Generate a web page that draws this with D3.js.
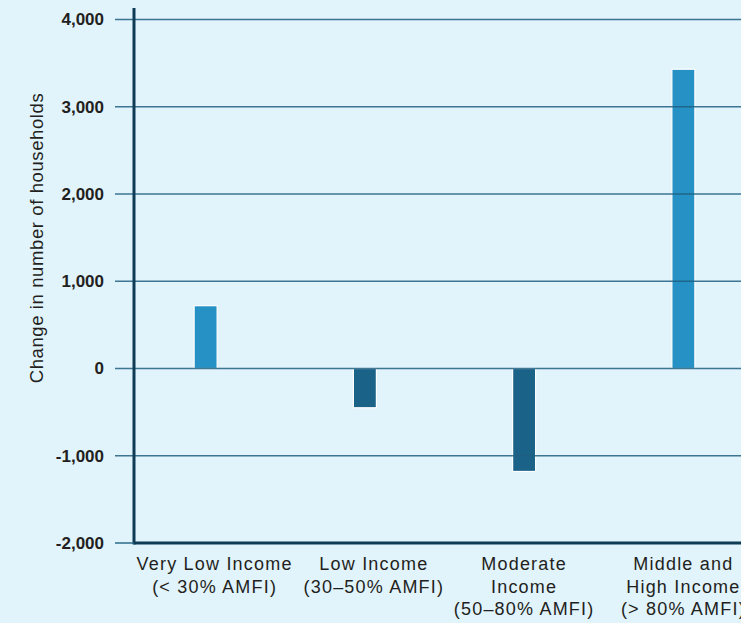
<!DOCTYPE html>
<html>
<head>
<meta charset="utf-8">
<script src="https://cdn.jsdelivr.net/npm/d3@7"></script>
<style>
  html, body { margin: 0; padding: 0; background: #e1f3fb; }
  svg { display: block; }
</style>
</head>
<body>
<svg id="chart"></svg>
<script>
// Data
const categories = ["Very Low Income", "Low Income", "Moderate Income", "Middle and High Income"];
const labelLines = [
    ["Very Low Income", "(< 30% AMFI)"],
    ["Low Income", "(30\u201350% AMFI)"],
    ["Moderate", "Income", "(50\u201380% AMFI)"],
    ["Middle and", "High Income", "(> 80% AMFI)"]
];
const changes = [720, -450, -1180, 3430];
const yTicks = [-2000, -1000, 0, 1000, 2000, 3000, 4000];

const width = 741;
const height = 623;
const axisX = 134;

const svg = d3.select("#chart")
    .attr("width", width)
    .attr("height", height)
    .style("background", "#e1f3fb");

// Scales
const x = d3.scaleBand()
    .domain(categories)
    .range([126, 763])
    .paddingInner(0);

const y = d3.scaleLinear()
    .domain([-2000, 4000])
    .range([543, 19.5]);

const barWidth = 23;

// Bars
svg.append("g")
    .selectAll("rect")
    .data(changes)
    .join("rect")
    .attr("x", (d, i) => x(categories[i]) + x.bandwidth() / 2 - barWidth / 2)
    .attr("y", d => y(Math.max(0, d)))
    .attr("width", barWidth)
    .attr("height", d => Math.abs(y(d) - y(0)))
    .attr("fill", d => d >= 0 ? "#2591c4" : "#1b6289")
    .attr("stroke", "#ffffff")
    .attr("stroke-width", 1.2);

// Gridlines (drawn above bars, like the original)
svg.append("g")
    .selectAll("line")
    .data(yTicks.filter(d => d > -2000))
    .join("line")
    .attr("x1", 115)
    .attr("x2", width)
    .attr("y1", d => y(d))
    .attr("y2", d => y(d))
    .attr("stroke", "#1f5f80")
    .attr("stroke-opacity", 0.85)
    .attr("stroke-width", 1.4);

// Y axis with tick labels (plain hyphen for negatives)
const fmt = d3.format(",");
const yAxis = svg.append("g")
    .attr("transform", `translate(${axisX},0)`)
    .call(d3.axisLeft(y).tickValues(yTicks).tickSize(0).tickPadding(30)
        .tickFormat(d => fmt(d).replace("\u2212", "-")));
yAxis.select(".domain").remove();
yAxis.selectAll("text")
    .attr("fill", "#231f20")
    .style("font-family", "'Liberation Sans', Arial, sans-serif")
    .style("font-size", "17px")
    .style("font-weight", "bold");

// Axis lines
svg.append("line")
    .attr("x1", axisX).attr("x2", axisX)
    .attr("y1", 8).attr("y2", y(-2000) + 1.5)
    .attr("stroke", "#0e3c56")
    .attr("stroke-width", 3);

svg.append("line")
    .attr("x1", 115).attr("x2", axisX)
    .attr("y1", y(-2000)).attr("y2", y(-2000))
    .attr("stroke", "#1f5f80")
    .attr("stroke-width", 1.4);

svg.append("line")
    .attr("x1", axisX).attr("x2", width)
    .attr("y1", y(-2000)).attr("y2", y(-2000))
    .attr("stroke", "#0e3c56")
    .attr("stroke-width", 3);

// Category labels
const labels = svg.append("g")
    .selectAll("text")
    .data(labelLines)
    .join("text")
    .attr("text-anchor", "middle")
    .attr("fill", "#231f20")
    .style("font-family", "'Liberation Sans Narrow', 'Liberation Sans', sans-serif")
    .style("font-size", "18px")
    .style("letter-spacing", "1.2px");

labels.each(function(lines, i) {
    const cx = x(categories[i]) + x.bandwidth() / 2 + (i < 2 ? 9 : 0);
    d3.select(this).selectAll("tspan")
        .data(lines)
        .join("tspan")
        .attr("x", cx)
        .attr("y", (d, j) => 570 + j * 22.5)
        .text(d => d);
});

// Y axis title
svg.append("text")
    .attr("transform", `translate(43,${238}) rotate(-90)`)
    .attr("text-anchor", "middle")
    .attr("fill", "#231f20")
    .style("font-family", "'Liberation Sans', Arial, sans-serif")
    .style("font-size", "18.5px")
    .style("letter-spacing", "0.6px")
    .text("Change in number of households");
</script>
</body>
</html>
